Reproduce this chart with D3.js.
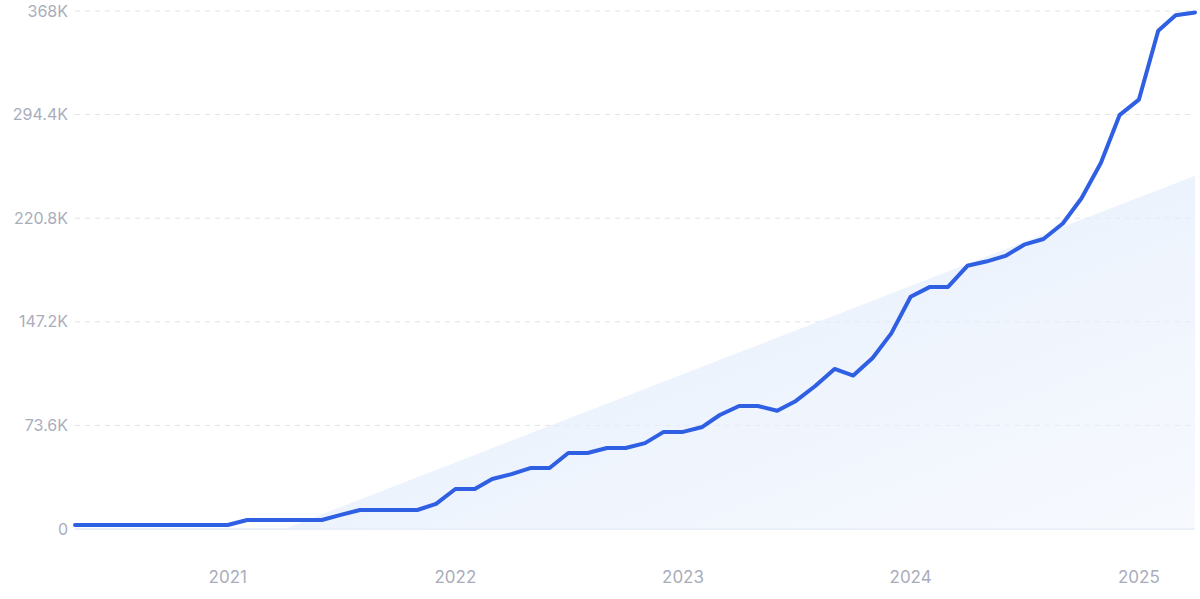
<!DOCTYPE html>
<html><head><meta charset="utf-8">
<script src="https://cdn.jsdelivr.net/npm/d3@7"></script>
<style>body{margin:0;background:#fff;font-family:Inter,"Noto Sans",sans-serif}</style>
</head><body><div id="chart"></div>
<script>
const width = 1200, height = 599;
const margin = {top: 11, right: 5, bottom: 70, left: 75};

// monthly values, May 2020 .. Apr 2025
const startMonth = new Date(2020, 4, 1);
const values = [
  2800, 2800, 2800, 2800, 2800, 2800, 2800, 2800,
  2800, 6400, 6400, 6400, 6400, 6400, 10000, 13500, 13500, 13500, 13500, 17800,
  28400, 28400, 35500, 39000, 43300, 43300, 54000, 54000, 57500, 57500, 61000, 69000,
  69000, 72500, 81000, 87400, 87400, 84000, 91000, 101600, 113700, 109000, 121500, 139000,
  165000, 172000, 172000, 187000, 190000, 194000, 202000, 206000, 217000, 235000, 260000, 294000,
  305000, 354000, 365000, 367000
];
const trendDates = [new Date(2021, 3, 1), new Date(2025, 3, 1)];
const trendValues = [0, 251000];
const yTicks = [0, 73600, 147200, 220800, 294400, 368000];
const yLabels = ["0", "73.6K", "147.2K", "220.8K", "294.4K", "368K"];
const xTicks = [2021, 2022, 2023, 2024, 2025];

const data = values.map((v, i) => ({date: d3.timeMonth.offset(startMonth, i), value: v}));

const svg = d3.select("#chart").append("svg").attr("width", width).attr("height", height);

const x = d3.scaleTime().domain([startMonth, data[data.length - 1].date]).range([margin.left, width - margin.right]);
const y = d3.scaleLinear().domain([0, 368000]).range([height - margin.bottom, margin.top]);

const defs = svg.append("defs");
const grad = defs.append("linearGradient").attr("id", "tg").attr("x1", 0).attr("y1", 0).attr("x2", 1).attr("y2", 1);
grad.append("stop").attr("offset", "0%").attr("stop-color", "#dce9fb").attr("stop-opacity", 0.9);
grad.append("stop").attr("offset", "100%").attr("stop-color", "#eef3fd").attr("stop-opacity", 0.5);

// grid
svg.append("g").selectAll("line").data(yTicks).join("line")
  .attr("x1", margin.left).attr("x2", width - margin.right)
  .attr("y1", d => y(d)).attr("y2", d => y(d))
  .attr("stroke", d => d === 0 ? "#d8dff0" : "#dde2ee")
  .attr("stroke-dasharray", d => d === 0 ? null : "5,5");

// trend area
const trend = trendDates.map((d, i) => ({date: d, value: trendValues[i]}));
svg.append("path").datum(trend)
  .attr("fill", "url(#tg)")
  .attr("d", d3.area().x(d => x(d.date)).y0(y(0)).y1(d => y(d.value)));

// y labels
svg.append("g").selectAll("text").data(yTicks).join("text")
  .attr("x", 68).attr("y", d => y(d)).attr("dy", "0.35em")
  .attr("text-anchor", "end").attr("font-size", 16).attr("fill", "#a9adbb")
  .text((d, i) => yLabels[i]);

// x labels
svg.append("g").selectAll("text").data(xTicks).join("text")
  .attr("x", d => x(new Date(d, 0, 1))).attr("y", 583)
  .attr("text-anchor", "middle").attr("font-size", 17).attr("fill", "#a9adbb")
  .text(d => d);

// line
svg.append("path").datum(data)
  .attr("fill", "none").attr("stroke", "#2f5fe3").attr("stroke-width", 4)
  .attr("stroke-linejoin", "round").attr("stroke-linecap", "round")
  .attr("d", d3.line().x(d => x(d.date)).y(d => y(d.value)));
</script></body></html>
